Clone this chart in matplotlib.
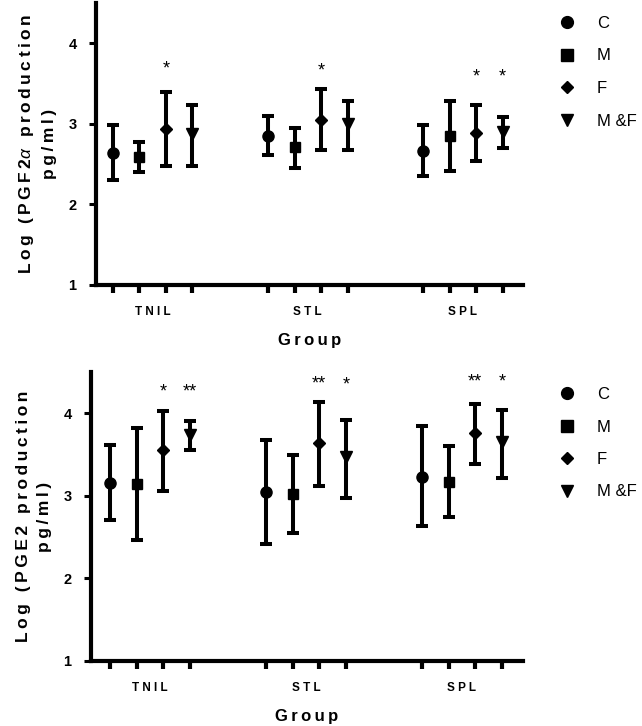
import matplotlib
matplotlib.use('Agg')
import matplotlib.pyplot as plt
from matplotlib.lines import Line2D

plt.rcParams['font.family'] = ['Liberation Sans', 'DejaVu Sans']
plt.rcParams['mathtext.fontset'] = 'custom'
plt.rcParams['mathtext.it'] = 'Liberation Sans:italic'

groups = ['TNIL', 'STL', 'SPL']
series = ['C', 'M', 'F', 'M &F']
markers = ['o', 's', 'D', 'v']
marker_sizes = [8, 7.5, 5.8, 8.5]

# PGF2a panel, one row per series (C, M, F, M&F), one value per group
pgf_mean = [[2.64, 2.85, 2.66],
            [2.59, 2.71, 2.85],
            [2.93, 3.05, 2.89],
            [2.87, 3.00, 2.90]]
pgf_low = [[2.30, 2.61, 2.35],
           [2.40, 2.45, 2.42],
           [2.48, 2.67, 2.54],
           [2.48, 2.68, 2.70]]
pgf_high = [[2.98, 3.10, 2.98],
            [2.78, 2.95, 3.28],
            [3.39, 3.43, 3.24],
            [3.24, 3.28, 3.08]]
pgf_stars = [['', '', ''],
             ['', '', ''],
             ['*', '*', '*'],
             ['', '', '*']]
pgf_star_y = [[0, 0, 0],
              [0, 0, 0],
              [3.71, 3.69, 3.61],
              [0, 0, 3.61]]

# PGE2 panel
pge_mean = [[3.16, 3.05, 3.23],
            [3.14, 3.02, 3.17],
            [3.55, 3.64, 3.76],
            [3.74, 3.47, 3.65]]
pge_low = [[2.71, 2.42, 2.63],
           [2.46, 2.55, 2.74],
           [3.06, 3.12, 3.39],
           [3.56, 2.98, 3.22]]
pge_high = [[3.62, 3.68, 3.85],
            [3.82, 3.49, 3.60],
            [4.03, 4.14, 4.11],
            [3.91, 3.92, 4.04]]
pge_stars = [['', '', ''],
             ['', '', ''],
             ['*', '**', '**'],
             ['**', '*', '*']]
pge_star_y = [[0, 0, 0],
              [0, 0, 0],
              [4.29, 4.39, 4.41],
              [4.29, 4.37, 4.41]]

group_start = [0, 5.85, 11.7]
TS = '\u2009'


def spaced(s):
    return TS.join(list(s))


W, H = 642, 726
fig = plt.figure(figsize=(W / 100, H / 100), dpi=100)


def px_axes(left, top, right, bottom):
    return fig.add_axes([left / W, 1 - bottom / H, (right - left) / W, (bottom - top) / H])


def draw_panel(ax, mean, low, high, stars, star_y, ylabel, xlim, legend_top):
    for i in range(len(series)):
        xs = [g + i for g in group_start]
        yerr = [[m - l for m, l in zip(mean[i], low[i])],
                [h - m for m, h in zip(mean[i], high[i])]]
        ax.errorbar(xs, mean[i], yerr=yerr, fmt=markers[i], color='black', ms=marker_sizes[i],
                    elinewidth=2.9, capsize=4.2, capthick=2.9, zorder=3)
        for j in range(len(groups)):
            if stars[i][j]:
                ax.text(xs[j], star_y[i][j] - 0.03, stars[i][j], ha='center', va='center', fontsize=13)
    ax.set_xlim(*xlim)
    ax.set_ylim(1, 4.5)
    ax.set_yticks([1, 2, 3, 4])
    ticks = [g + k for g in group_start for k in range(4)]
    ax.set_xticks(ticks)
    ax.set_xticklabels([])
    ax.set_xticks([g + 1.5 for g in group_start], minor=True)
    ax.set_xticklabels([' '.join(list(g)) for g in groups], minor=True, fontsize=8.5, fontweight='bold')
    ax.tick_params(axis='x', which='major', direction='out', length=6, width=3)
    ax.tick_params(axis='x', which='minor', length=0, pad=15)
    ax.tick_params(axis='y', direction='out', length=5, width=2.2, pad=9, labelsize=10.5)
    for lab in ax.get_yticklabels():
        lab.set_fontweight('bold')
    for side in ['top', 'right']:
        ax.spines[side].set_visible(False)
    for side in ['left', 'bottom']:
        ax.spines[side].set_linewidth(3)
        ax.spines[side].set_capstyle('projecting')
    ax.set_xlabel(spaced('Group'), fontsize=12, fontweight='bold', labelpad=11)
    ax.set_ylabel(ylabel, fontsize=12.5, fontweight='bold', linespacing=1.55, labelpad=8)

    handles = [Line2D([], [], marker=markers[i], ms=marker_sizes[i] + 0.5, color='black', ls='none')
               for i in range(len(series))]
    fig.legend(handles, series, loc='upper left', bbox_to_anchor=(550 / W, 1 - legend_top / H),
               frameon=False, fontsize=12, borderpad=0, borderaxespad=0, labelspacing=1.05,
               handlelength=2.0, handletextpad=0.8)


ax1 = px_axes(96, 3, 523, 285)
label1 = spaced('Log (PGF2') + r'$\alpha$' + TS + spaced(' production') + '\n' + spaced('pg/ml)')
draw_panel(ax1, pgf_mean, pgf_low, pgf_high, pgf_stars, pgf_star_y, label1, (-0.64, 15.47), 16)

ax2 = px_axes(91, 372, 523, 661)
label2 = spaced('Log (PGE2 production') + '\n' + spaced('pg/ml)')
draw_panel(ax2, pge_mean, pge_low, pge_high, pge_stars, pge_star_y, label2, (-0.71, 15.49), 387)

plt.savefig('out.png', dpi=100)
